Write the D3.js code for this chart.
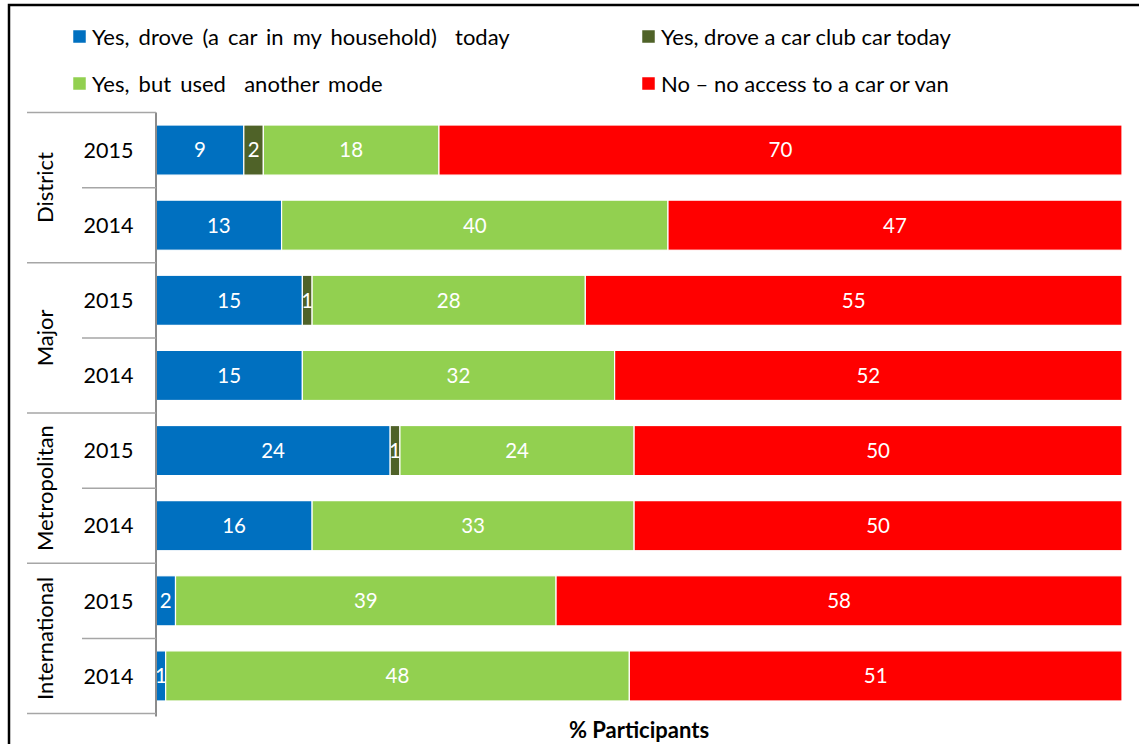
<!DOCTYPE html>
<html>
<head>
<meta charset="utf-8">
<script src="https://cdn.jsdelivr.net/npm/d3@7"></script>
<style>
  html, body { margin: 0; padding: 0; background: #fff; }
  svg { display: block; font-family: Lato, "Open Sans", sans-serif; }
  .legend-label { white-space: pre; }
</style>
</head>
<body>
<svg id="chart" width="1139" height="744"></svg>
<script>
// Car access by station category and survey year (% of participants)
const groups = ["District", "Major", "Metropolitan", "International"];
const years = ["2015", "2014"];
const seriesNames = [
  "Yes, drove (a car in my household)  today",
  "Yes, drove a car club car today",
  "Yes, but used  another mode",
  "No \u2013 no access to a car or van"
];
const seriesColors = ["#0070C0", "#4F6228", "#92D050", "#FF0000"];

// One array per series, rows ordered District 2015, District 2014, Major 2015, ...
const droveOwn   = [9, 13, 15, 15, 24, 16, 2, 1];
const droveClub  = [2, 0, 1, 0, 1, 0, 0, 0];
const otherMode  = [18, 40, 28, 32, 24, 33, 39, 48];
const noAccess   = [70, 47, 55, 52, 50, 50, 58, 51];
const xAxisTitle = "% Participants";

const seriesValues = [droveOwn, droveClub, otherMode, noAccess];
const keys = ["s0", "s1", "s2", "s3"];

const rows = [];
groups.forEach((g, gi) => years.forEach((y, yi) => {
  const i = gi * years.length + yi;
  const r = { id: g + "-" + y, group: g, year: y };
  keys.forEach((k, ki) => r[k] = seriesValues[ki][i]);
  rows.push(r);
}));

const svg = d3.select("#chart");

// Outer frame (left and top edges of the figure box)
svg.append("path")
  .attr("d", "M9,744 V5 H1139")
  .attr("fill", "none").attr("stroke", "#000").attr("stroke-width", 2.5);

const plotLeft = 156, plotRight = 1122, plotTop = 112.5, plotBottom = 713.5;

const x = d3.scaleLinear().domain([0, 1]).range([plotLeft, plotRight]);
const y = d3.scaleBand().domain(rows.map(r => r.id))
  .range([plotTop, plotBottom]).paddingInner(1 / 3).paddingOuter(1 / 6);

const stacked = d3.stack().keys(keys).offset(d3.stackOffsetExpand)(rows);

const layer = svg.append("g").selectAll("g").data(stacked).join("g")
  .attr("fill", (d, i) => seriesColors[i]);

layer.selectAll("rect").data(d => d.map(p => ({ p, key: d.key }))).join("rect")
  .filter(d => d.p.data[d.key] > 0)
  .attr("x", d => x(d.p[0]))
  .attr("y", d => y(d.p.data.id))
  .attr("width", d => x(d.p[1]) - x(d.p[0]))
  .attr("height", y.bandwidth())
  .attr("stroke", "#fff").attr("stroke-width", 1.2);

// Value labels inside each segment
layer.selectAll("text").data(d => d.map(p => ({ p, key: d.key }))).join("text")
  .filter(d => d.p.data[d.key] > 0)
  .attr("x", d => (x(d.p[0]) + x(d.p[1])) / 2)
  .attr("y", d => y(d.p.data.id) + y.bandwidth() / 2)
  .attr("dy", "0.36em")
  .attr("text-anchor", "middle")
  .attr("fill", "#fff")
  .attr("font-size", 20.5)
  .text(d => d.p.data[d.key]);

// Category axis: two-level table of group and year labels
const axis = svg.append("g");
const step = y.step();
const lineColor = "#a6a6a6";
axis.append("line")
  .attr("x1", plotLeft).attr("x2", plotLeft)
  .attr("y1", plotTop).attr("y2", plotBottom + 3)
  .attr("stroke", "#8c8c8c").attr("stroke-width", 2);

rows.forEach((r, i) => {
  const top = plotTop + i * step;
  const isGroupStart = i % years.length === 0;
  axis.append("line")
    .attr("x1", isGroupStart ? 27 : 82).attr("x2", plotLeft)
    .attr("y1", top).attr("y2", top)
    .attr("stroke", lineColor).attr("stroke-width", 1.5);
  axis.append("text")
    .attr("x", 108.5).attr("y", top + step / 2)
    .attr("dy", "0.36em").attr("text-anchor", "middle")
    .attr("font-size", 21.5).attr("fill", "#000")
    .text(r.year);
});
axis.append("line")
  .attr("x1", 27).attr("x2", plotLeft)
  .attr("y1", plotBottom).attr("y2", plotBottom)
  .attr("stroke", lineColor).attr("stroke-width", 1.5);

groups.forEach((g, gi) => {
  const cy = plotTop + (gi * years.length + years.length / 2) * step;
  axis.append("text")
    .attr("transform", `translate(45,${cy}) rotate(-90)`)
    .attr("dy", "0.36em").attr("text-anchor", "middle")
    .attr("font-size", 22).attr("fill", "#000")
    .text(g);
});

// Legend in two columns; the left column uses looser word spacing
const legendPos = [[73, 36], [642, 36], [73, 83], [642, 83]];
const legendWordSpacing = [3.5, 0, 3.5, 0];
const legend = svg.append("g");
seriesNames.forEach((name, i) => {
  const [lx, ly] = legendPos[i];
  legend.append("rect")
    .attr("x", lx).attr("y", ly - 6).attr("width", 13).attr("height", 13)
    .attr("fill", seriesColors[i]).attr("stroke", "#fff").attr("stroke-width", 0.5);
  legend.append("text")
    .attr("class", "legend-label")
    .attr("x", lx + 19).attr("y", ly + 1)
    .attr("dy", "0.36em")
    .attr("font-size", 22).attr("fill", "#000")
    .style("word-spacing", legendWordSpacing[i] + "px")
    .text(name);
});

// X axis title
svg.append("text")
  .attr("x", (plotLeft + plotRight) / 2).attr("y", 730)
  .attr("dy", "0.36em").attr("text-anchor", "middle")
  .attr("font-size", 22).attr("font-weight", "bold").attr("fill", "#000")
  .text(xAxisTitle);
</script>
</body>
</html>
